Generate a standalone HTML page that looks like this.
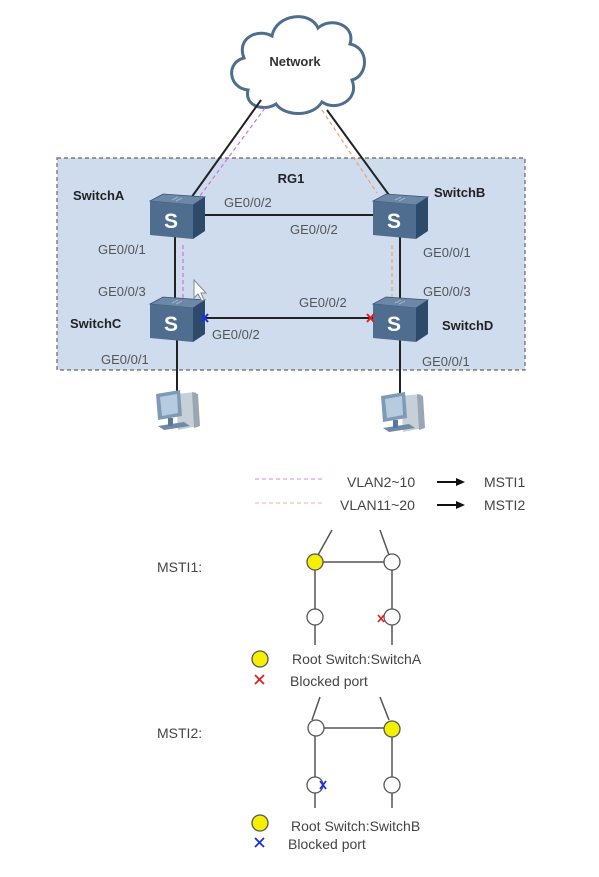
<!DOCTYPE html>
<html><head><meta charset="utf-8"><style>
html,body{margin:0;padding:0;background:#fff;}
svg{display:block;}
text{font-family:"Liberation Sans","DejaVu Sans",sans-serif;}
</style></head><body>
<svg width="599" height="877" viewBox="0 0 599 877" xmlns="http://www.w3.org/2000/svg">
<defs>
<g id="sw">
  <polygon points="0,7 13,0 55,3 43,11" fill="#6c88a6" stroke="#3d5775" stroke-width="0.8"/>
  <polygon points="0,7 43,11 43,45 0,41" fill="#4f6d8f"/>
  <polygon points="43,11 55,3 55,37 43,45" fill="#2d4a6b"/>
  <text x="21" y="34" font-size="21" fill="#fff" text-anchor="middle" font-weight="bold">S</text>
  <path d="M22 6 l6 -3 M26 7 l6 -3" stroke="#9fb3c8" stroke-width="1"/>
</g>
<g id="pc">
  <polygon points="22,8 42,6 44,40 24,44" fill="#c7cfd9"/>
  <polygon points="38,6 44,8 46,40 40,42" fill="#9aa6b4"/>
  <polygon points="2,8 26,4 28,30 4,34" fill="#7f9ab7"/>
  <polygon points="6,11 23,8 24,27 8,30" fill="#b6cbe0"/>
  <polygon points="4,40 30,36 36,40 10,44" fill="#6f8aa8"/>
  <rect x="14" y="32" width="5" height="8" fill="#5c7898"/>
</g>
</defs>
<!-- RG1 box -->
<rect x="57" y="158" width="468" height="212" fill="#cfdcee" stroke="#666" stroke-width="1.2" stroke-dasharray="4,3"/>
<!-- cloud -->
<path d="M248,90 C228,88 226,62 244,58 C236,38 258,28 272,36 C276,14 310,10 318,28 C332,16 356,26 350,44 C370,48 368,76 352,80 C360,100 336,112 322,102 C312,118 284,116 276,104 C264,112 244,106 248,90 Z" fill="#fff" stroke="#4f6d8f" stroke-width="3"/>
<text x="295" y="66" font-size="13" font-weight="bold" fill="#333" text-anchor="middle">Network</text>
<!-- links -->
<line x1="261" y1="100" x2="191" y2="198" stroke="#222" stroke-width="2"/>
<line x1="327" y1="110" x2="389" y2="195" stroke="#222" stroke-width="2"/>
<line x1="265" y1="108" x2="197" y2="200" stroke="#d070e0" stroke-width="1.2" stroke-dasharray="4,3"/>
<line x1="322" y1="110" x2="377" y2="193" stroke="#f0a070" stroke-width="1.2" stroke-dasharray="4,3"/>
<line x1="200" y1="215" x2="380" y2="215" stroke="#222" stroke-width="2"/>
<line x1="175" y1="235" x2="175" y2="300" stroke="#222" stroke-width="2"/>
<line x1="183" y1="245" x2="183" y2="300" stroke="#d070e0" stroke-width="1.2" stroke-dasharray="4,3"/>
<line x1="400" y1="235" x2="400" y2="300" stroke="#222" stroke-width="2"/>
<line x1="392" y1="245" x2="392" y2="300" stroke="#f0a070" stroke-width="1.2" stroke-dasharray="4,3"/>
<line x1="200" y1="318" x2="378" y2="318" stroke="#222" stroke-width="2"/>
<line x1="177" y1="340" x2="177" y2="395" stroke="#222" stroke-width="2"/>
<line x1="400" y1="340" x2="400" y2="395" stroke="#222" stroke-width="2"/>
<use href="#sw" x="150" y="194"/>
<use href="#sw" x="373" y="194"/>
<use href="#sw" x="150" y="297"/>
<use href="#sw" x="373" y="297"/>
<path d="M201,314 l7,8 M208,314 l-7,8" stroke="#1a2fe0" stroke-width="2"/>
<path d="M367,314 l7,8 M374,314 l-7,8" stroke="#e02020" stroke-width="2"/>
<use href="#pc" x="154" y="386"/>
<use href="#pc" x="379" y="388"/>
<!-- labels -->
<g font-size="13" fill="#222" font-weight="bold">
<text x="291" y="183" text-anchor="middle">RG1</text>
<text x="73" y="200">SwitchA</text>
<text x="434" y="197">SwitchB</text>
<text x="70" y="328">SwitchC</text>
<text x="442" y="330">SwitchD</text>
</g>
<g font-size="13" fill="#555">
<text x="224" y="207">GE0/0/2</text>
<text x="290" y="234">GE0/0/2</text>
<text x="98" y="254">GE0/0/1</text>
<text x="423" y="257">GE0/0/1</text>
<text x="98" y="296">GE0/0/3</text>
<text x="423" y="296">GE0/0/3</text>
<text x="299" y="307">GE0/0/2</text>
<text x="212" y="339">GE0/0/2</text>
<text x="101" y="364">GE0/0/1</text>
<text x="422" y="366">GE0/0/1</text>
</g>
<!-- cursor -->
<path d="M194,280 L194,298 L198,294 L202,301 L204,300 L201,293 L206,293 Z" fill="#fff" stroke="#888" stroke-width="1"/>
<!-- legend -->
<line x1="255" y1="479" x2="322" y2="479" stroke="#e0a0e8" stroke-width="1.2" stroke-dasharray="4,3"/>
<line x1="255" y1="503" x2="322" y2="503" stroke="#f0c0b0" stroke-width="1.2" stroke-dasharray="4,3"/>
<g font-size="14" fill="#444">
<text x="347" y="487">VLAN2~10</text>
<text x="340" y="510">VLAN11~20</text>
<text x="484" y="487">MSTI1</text>
<text x="484" y="510">MSTI2</text>
<text x="157" y="572">MSTI1:</text>
<text x="157" y="738">MSTI2:</text>
<text x="292" y="664">Root Switch:SwitchA</text>
<text x="290" y="686">Blocked port</text>
<text x="291" y="831">Root Switch:SwitchB</text>
<text x="288" y="849">Blocked port</text>
</g>
<path d="M437,482 H458" stroke="#111" stroke-width="2"/><polygon points="456,478 465,482 456,486" fill="#111"/>
<path d="M437,505 H458" stroke="#111" stroke-width="2"/><polygon points="456,501 465,505 456,509" fill="#111"/>
<!-- MSTI1 -->
<g stroke="#555" stroke-width="1.5" fill="none">
<path d="M332,530 L318,555 M380,530 L389,555 M315,562 H392 M315,562 V645 M392,562 V645"/>
<path d="M320,697 L312,720 M380,697 L389,720 M315,728 H392 M315,728 V808 M392,728 V808"/>
</g>
<circle cx="315" cy="562" r="8" fill="#f5f000" stroke="#555" stroke-width="1.3"/>
<circle cx="392" cy="562" r="8" fill="#fff" stroke="#555" stroke-width="1.3"/>
<circle cx="315" cy="617" r="8" fill="#fff" stroke="#555" stroke-width="1.3"/>
<circle cx="392" cy="617" r="8" fill="#fff" stroke="#555" stroke-width="1.3"/>
<path d="M378,615 l6,7 M384,615 l-6,7" stroke="#e02020" stroke-width="1.6"/>
<circle cx="260" cy="659" r="8" fill="#f5f000" stroke="#555" stroke-width="1.3"/>
<path d="M255,675 l9,9 M264,675 l-9,9" stroke="#e02020" stroke-width="1.8"/>
<circle cx="316" cy="728" r="8" fill="#fff" stroke="#555" stroke-width="1.3"/>
<circle cx="392" cy="729" r="8" fill="#f5f000" stroke="#555" stroke-width="1.3"/>
<circle cx="315" cy="785" r="8" fill="#fff" stroke="#555" stroke-width="1.3"/>
<circle cx="392" cy="785" r="8" fill="#fff" stroke="#555" stroke-width="1.3"/>
<path d="M320,781 l6,8 M326,781 l-6,8" stroke="#1a2fe0" stroke-width="1.8"/>
<circle cx="260" cy="823" r="8" fill="#f5f000" stroke="#555" stroke-width="1.3"/>
<path d="M255,838 l9,9 M264,838 l-9,9" stroke="#1a2fe0" stroke-width="1.8"/>
</svg>
</body></html>
